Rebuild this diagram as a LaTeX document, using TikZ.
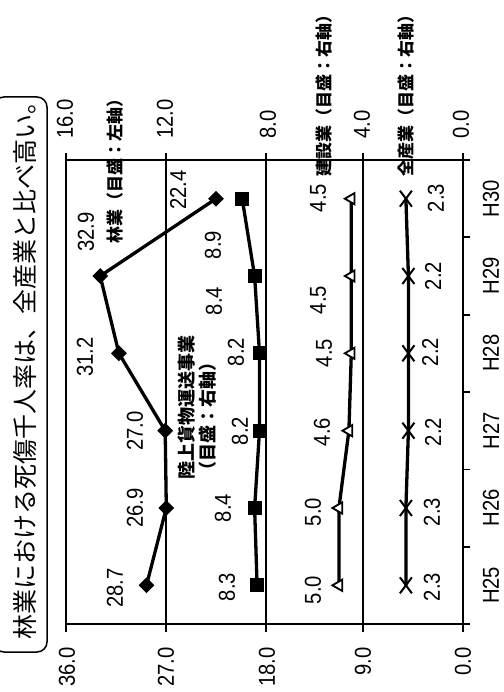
\documentclass[tikz,border=0pt]{standalone}
\usepackage{fontspec}
\setmainfont[FakeStretch=0.88]{Liberation Sans}
\newfontfamily\cjk{Noto Sans CJK JP}
\usetikzlibrary{shapes.geometric,shapes.misc,backgrounds}
\begin{document}
\begin{tikzpicture}[x=1pt,y=-1pt,
  grid/.style={line width=1.6pt},
  series/.style={line width=3.3pt, line cap=round, line join=round},
  dia/.style={diamond, fill=black, inner sep=0pt, minimum size=16pt},
  sq/.style={rectangle, fill=black, inner sep=0pt, minimum size=14pt},
  tri/.style={regular polygon, regular polygon sides=3, draw=black, fill=white, line width=1.8pt, inner sep=0pt, minimum size=13pt, rotate=90},
  crs/.style={cross out, draw=black, line width=2pt, inner sep=0pt, minimum width=10pt, minimum height=14pt},
  num/.style={rotate=90, font=\fontsize{23}{25}\selectfont, inner sep=0pt},
  lab/.style={rotate=90, font=\cjk\bfseries\fontsize{17}{20}\selectfont, inner sep=0pt},
]
\useasboundingbox (0,0) rectangle (503,692);

% title box
\draw[line width=1.5pt, rounded corners=10pt] (-6,97) rectangle (47,652);
\node[rotate=90, inner sep=0pt, font=\cjk\fontsize{25}{25}\selectfont] (title) at (25,364) {林業における死傷千人率は、全産業と比べ高い。};

% grid and axes
\begin{scope}[on background layer]
  \foreach \x in {66,166,266,363,463} \draw[grid] (\x,153) -- (\x,632);
  \draw[grid] (66,160) -- (470,160);
  \draw[grid] (66,624) -- (470,624);
  \foreach \y in {546.7,469.3,392,314.7,237.3} \draw[grid] (463,\y) -- (470,\y);
\end{scope}

% right axis labels
\node[num, anchor=west] (r16) at (65,139) {16.0};
\node[num, anchor=west] (r12) at (165,139) {12.0};
\node[num, anchor=west] (r8)  at (268,139) {8.0};
\node[num, anchor=west] (r4)  at (362,139) {4.0};
\node[num, anchor=west] (r0)  at (461,139) {0.0};

% left axis labels
\node[num, anchor=east] (l36) at (67,647) {36.0};
\node[num, anchor=east] (l27) at (166,647) {27.0};
\node[num, anchor=east] (l18) at (267,647) {18.0};
\node[num, anchor=east] (l9)  at (363,647) {9.0};
\node[num, anchor=east] (l0)  at (463,647) {0.0};

% category labels
\node[num] (c25) at (491,585.3) {H25};
\node[num] (c26) at (491,508.0) {H26};
\node[num] (c27) at (491,430.7) {H27};
\node[num] (c28) at (491,353.3) {H28};
\node[num] (c29) at (491,276.0) {H29};
\node[num] (c30) at (491,198.7) {H30};

% forestry (left axis)
\node[dia] (f1) at (146.5,585.3) {};
\node[dia] (f2) at (166.3,508.0) {};
\node[dia] (f3) at (165.2,430.7) {};
\node[dia] (f4) at (118.9,353.3) {};
\node[dia] (f5) at (100.2,276.0) {};
\node[dia] (f6) at (216.0,198.7) {};

% land freight (right axis)
\node[sq] (t1) at (257.1,585.3) {};
\node[sq] (t2) at (254.6,508.0) {};
\node[sq] (t3) at (259.5,430.7) {};
\node[sq] (t4) at (259.5,353.3) {};
\node[sq] (t5) at (254.6,276.0) {};
\node[sq] (t6) at (242.2,198.7) {};

% construction (right axis)
\node[tri] (k1) at (338.9,585.3) {};
\node[tri] (k2) at (338.9,508.0) {};
\node[tri] (k3) at (348.9,430.7) {};
\node[tri] (k4) at (351.3,353.3) {};
\node[tri] (k5) at (351.3,276.0) {};
\node[tri] (k6) at (351.3,198.7) {};

% all industries (right axis)
\node[crs] (a1) at (405.9,585.3) {};
\node[crs] (a2) at (405.9,508.0) {};
\node[crs] (a3) at (408.4,430.7) {};
\node[crs] (a4) at (408.4,353.3) {};
\node[crs] (a5) at (408.4,276.0) {};
\node[crs] (a6) at (405.9,198.7) {};

\begin{scope}[on background layer]
  \draw[series] (f1.center) -- (f2.center) -- (f3.center) -- (f4.center) -- (f5.center) -- (f6.center);
  \draw[series] (t1.center) -- (t2.center) -- (t3.center) -- (t4.center) -- (t5.center) -- (t6.center);
  \draw[series] (k1.center) -- (k2.center) -- (k3.center) -- (k4.center) -- (k5.center) -- (k6.center);
  \draw[series] (a1.center) -- (a2.center) -- (a3.center) -- (a4.center) -- (a5.center) -- (a6.center);
\end{scope}

% data labels
\node[num] (fl1) at (115,588) {28.7};
\node[num] (fl2) at (135,508) {26.9};
\node[num] (fl3) at (135,431) {27.0};
\node[num] (fl4) at (85,357) {31.2};
\node[num] (fl5) at (86,232) {32.9};
\node[num] (fl6) at (178,190) {22.4};

\node[num] (tl1) at (227,587) {8.3};
\node[num] (tl2) at (223,508) {8.4};
\node[num] (tl3) at (240,431) {8.2};
\node[num] (tl4) at (236,352) {8.2};
\node[num] (tl5) at (214,301) {8.4};
\node[num] (tl6) at (213,245) {8.9};

\node[num] (kl1) at (313,590) {5.0};
\node[num] (kl2) at (313,512) {5.0};
\node[num] (kl3) at (322,432) {4.6};
\node[num] (kl4) at (324,353) {4.5};
\node[num] (kl5) at (318,300) {4.5};
\node[num] (kl6) at (318,198) {4.5};

\node[num] (al1) at (432,587) {2.3};
\node[num] (al2) at (432,512) {2.3};
\node[num] (al3) at (433,432) {2.2};
\node[num] (al4) at (430,352) {2.2};
\node[num] (al5) at (433,276) {2.2};
\node[num] (al6) at (436,198) {2.3};

% series labels
\node[lab] (sf) at (115,167) {林業（目盛：左軸）};
\node[lab, align=left, anchor=north west, font=\cjk\bfseries\fontsize{18}{21}\selectfont] (st) at (178,480) {陸上貨物運送事業\\（目盛：右軸）};
\node[lab] (sk) at (324,92) {建設業（目盛：右軸）};
\node[lab] (sa) at (406,92) {全産業（目盛：右軸）};
\end{tikzpicture}
\end{document}
